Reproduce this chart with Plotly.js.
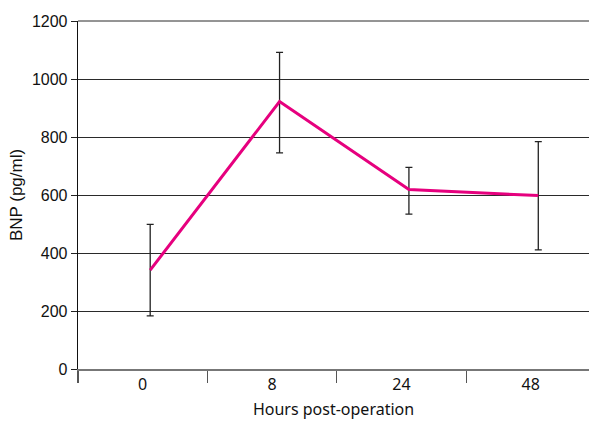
<!DOCTYPE html>
<html><head><meta charset="utf-8">
<script src="https://cdn.plot.ly/plotly-3.0.1.min.js"></script>
<style>html,body{margin:0;padding:0;background:#fff}#chart{width:589px;height:436px}</style>
</head><body><div id="chart"></div>
<script>
const categories = ['0', '8', '24', '48'];
const bnpMean = [341, 922, 619, 598];
const errPlus = [158, 170, 76, 186];
const errMinus = [158, 177, 85, 187];
const yTicks = [0, 200, 400, 600, 800, 1000, 1200];

const idx = categories.map((c, i) => i);
const shift = 0.058; // marker offset within each category band
const xMin = -0.5, xMax = 3.45;

const traces = [
  {x: categories, y: categories.map(() => null), type: 'scatter', mode: 'none',
   xaxis: 'x', yaxis: 'y', showlegend: false, hoverinfo: 'skip'},
  {x: idx, y: bnpMean, type: 'scatter', mode: 'lines', xaxis: 'x2', yaxis: 'y',
   line: {color: '#E6007E', width: 3},
   error_y: {type: 'data', symmetric: false, array: errPlus, arrayminus: errMinus,
             color: '#222', thickness: 1.3, width: 3.5},
   showlegend: false}
];

const layout = {
  width: 589, height: 436,
  margin: {l: 78, r: 0, t: 21, b: 67},
  paper_bgcolor: '#fff', plot_bgcolor: '#fff',
  showlegend: false,
  shapes: [{type: 'line', xref: 'paper', yref: 'paper', x0: 0, x1: 1, y0: 1, y1: 1,
            line: {color: '#2a2a2a', width: 1}}],
  xaxis: {
    type: 'category', categoryarray: categories, categoryorder: 'array',
    range: [xMin, xMax], tickson: 'boundaries',
    ticks: 'outside', ticklen: 12, tickcolor: '#555', tickwidth: 1.2,
    showline: true, linecolor: '#777', linewidth: 1.5,
    showgrid: false, zeroline: false,
    tickfont: {family: 'Noto Sans, sans-serif', size: 16, color: '#111'},
    title: {text: 'Hours post-operation', standoff: 10,
            font: {family: 'Noto Sans, sans-serif', size: 16, color: '#111'}}
  },
  xaxis2: {
    overlaying: 'x', range: [xMin - shift, xMax - shift], visible: false,
    showgrid: false, zeroline: false
  },
  yaxis: {
    range: [0, 1200], tickvals: yTicks, ticktext: yTicks.map(String),
    ticks: 'outside', ticklen: 6, tickcolor: '#222', tickwidth: 1,
    showline: true, linecolor: '#111', linewidth: 1.3,
    showgrid: true, gridcolor: '#2a2a2a', gridwidth: 1, zeroline: false,
    tickfont: {family: 'Liberation Sans, Arial, sans-serif', size: 16, color: '#111'},
    title: {text: 'BNP (pg/ml)', standoff: 5,
            font: {family: 'Liberation Sans, Arial, sans-serif', size: 17, color: '#111'}}
  }
};

Plotly.newPlot('chart', traces, layout, {displayModeBar: false, staticPlot: true});
</script></body></html>
